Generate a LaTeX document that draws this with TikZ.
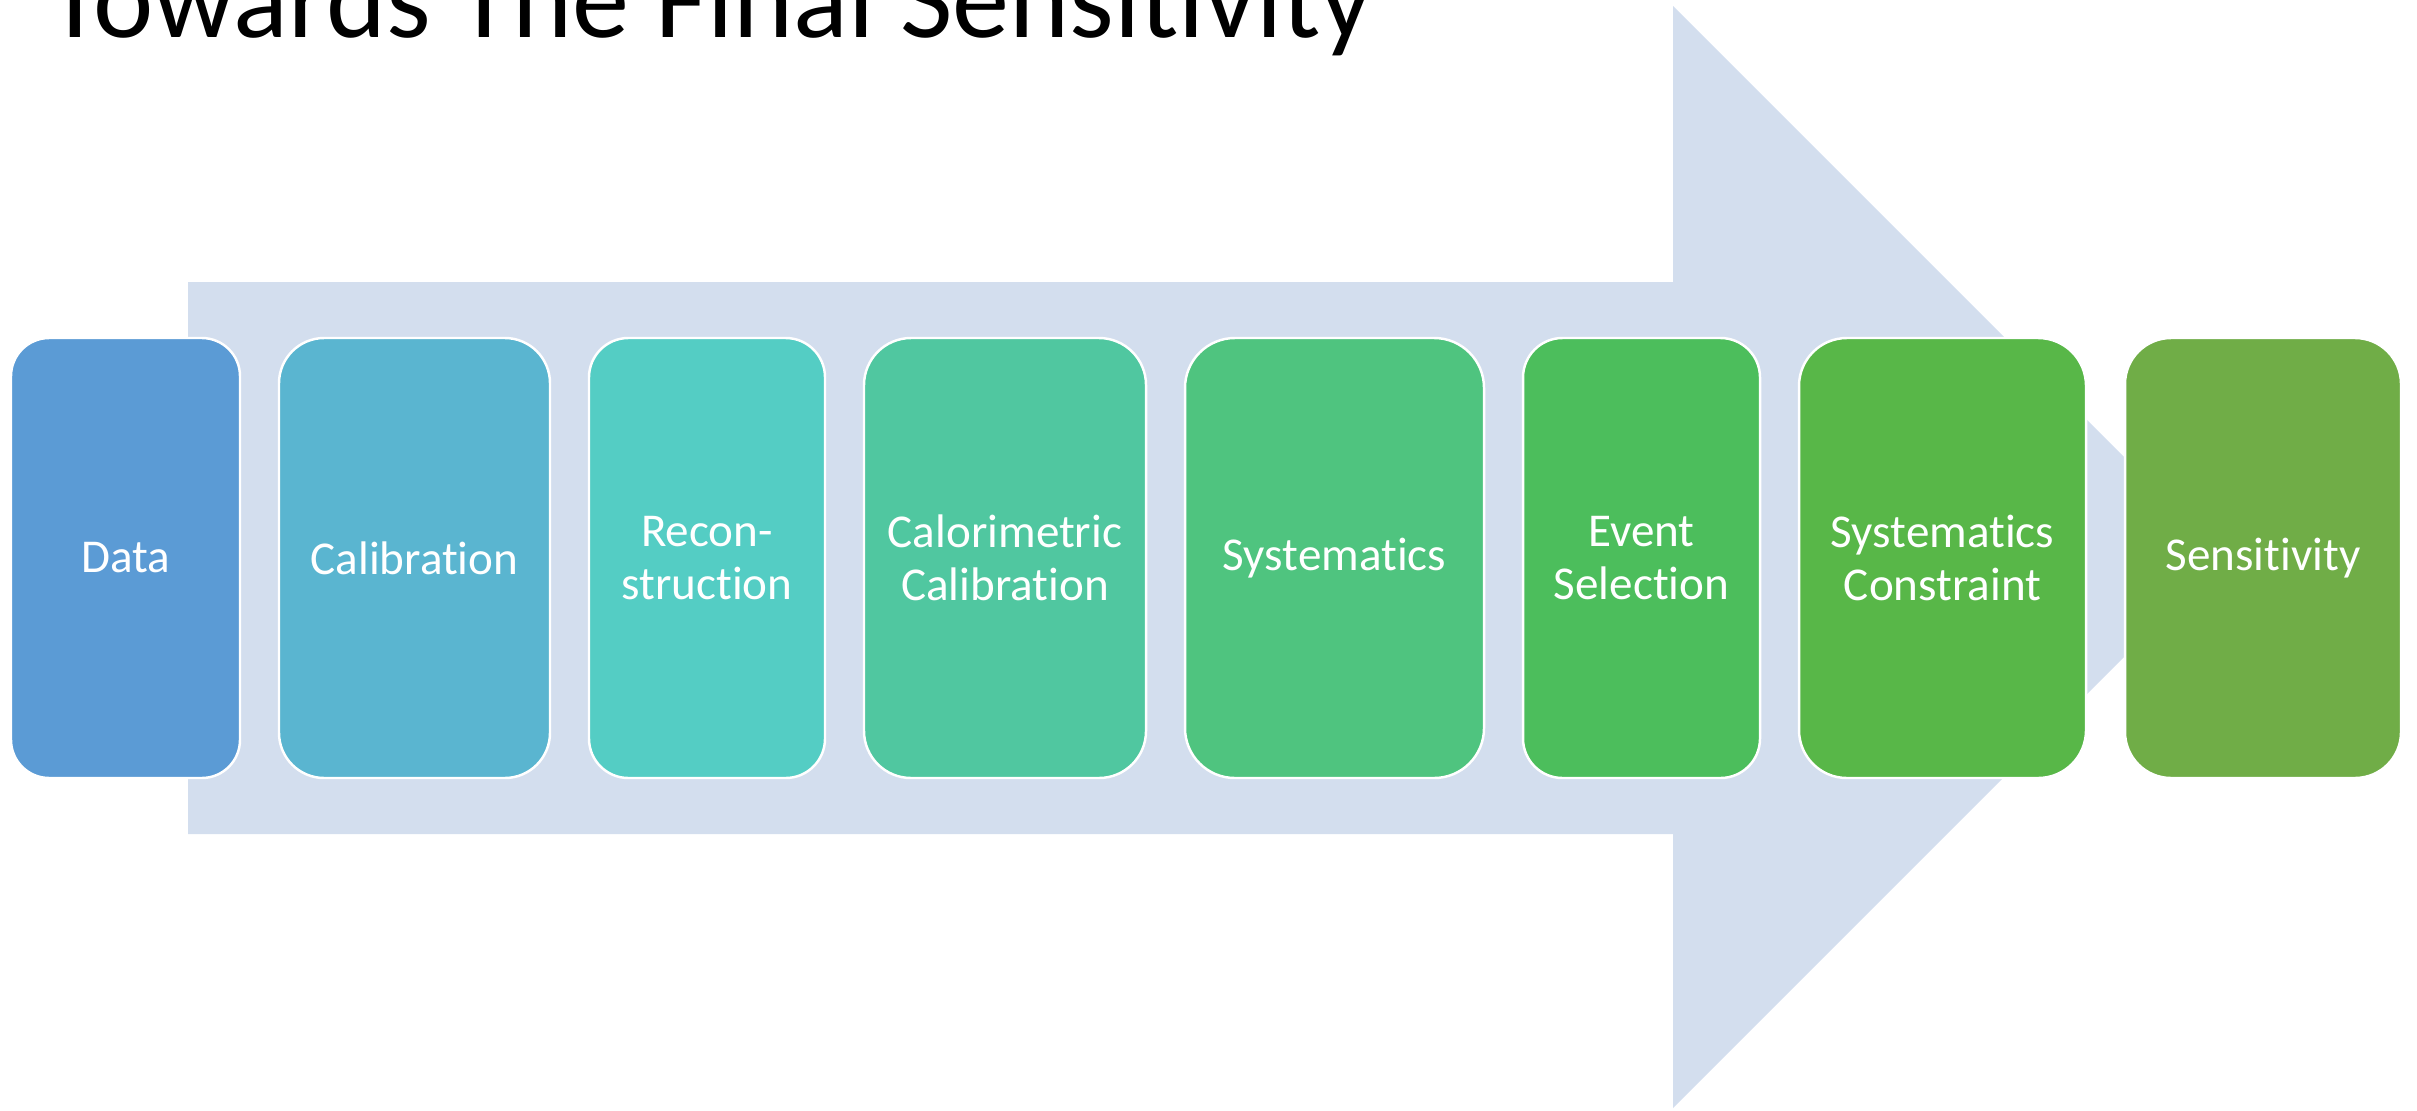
\documentclass[tikz,border=0pt]{standalone}
\usepackage{fontspec}
\setmainfont{Carlito}[Ligatures=NoCommon]
\usepackage{xcolor}
\usetikzlibrary{positioning}
\definecolor{Arr}{RGB}{211,222,238}
\definecolor{S1}{RGB}{91,155,213}
\definecolor{S2}{RGB}{90,181,208}
\definecolor{S3}{RGB}{84,205,196}
\definecolor{S4}{RGB}{80,199,160}
\definecolor{S5}{RGB}{79,196,127}
\definecolor{S6}{RGB}{76,190,92}
\definecolor{S7}{RGB}{88,183,72}
\definecolor{S8}{RGB}{112,173,71}

\begin{document}
\begin{tikzpicture}[
  node distance = 0.39cm,
  stage/.style 2 args = {
    rectangle, rounded corners=#2/6,
    draw=white, line width=0.7pt, fill=#1,
    align=center, minimum width=#2, minimum height=4.40cm,
    outer sep=0pt, text=white,
    font=\fontsize{13.4}{15.1}\selectfont
  },
  headline/.style = {
    anchor=base west, inner sep=0pt,
    font=\fontsize{32.5}{38}\selectfont
  }
]
\useasboundingbox (0,0) rectangle (24.17,11.10);

%% ---------- Big background arrow ----------
\fill[Arr] (1.88,8.28) -- (16.73,8.28) -- (16.73,11.04) -- (22.24,5.53)
  -- (16.73,0.02) -- (16.73,2.76) -- (1.88,2.76) -- cycle;

%% ---------- Heading ----------
\node[headline] (title) at (0.47,10.73) {Towards The Final Sensitivity};

%% ---------- Analysis stages ----------
\node[stage={S1}{2.29cm}, anchor=west] (data) at (0.11,5.52) {Data};
\node[stage={S2}{2.71cm}, right=of data] (calib) {Calibration};
\node[stage={S3}{2.36cm}, right=of calib] (reco) {Recon-\\struction};
\node[stage={S4}{2.82cm}, right=of reco] (calo) {Calorimetric\\Calibration};
\node[stage={S5}{2.99cm}, right=of calo] (syst) {Systematics};
\node[stage={S6}{2.37cm}, right=of syst] (evsel) {Event\\Selection};
\node[stage={S7}{2.87cm}, right=of evsel] (constr) {Systematics\\Constraint};
\node[stage={S8}{2.76cm}, right=of constr] (sens) {Sensitivity};

\end{tikzpicture}
\end{document}
